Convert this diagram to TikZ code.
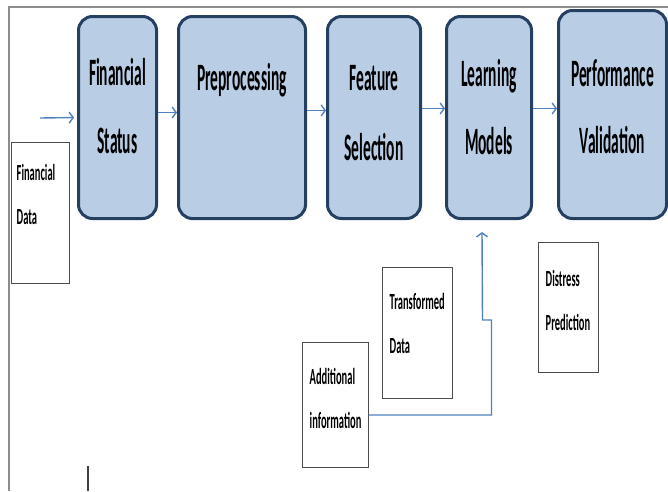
\documentclass[tikz,border=0pt]{standalone}
\usepackage{graphicx}
\usepackage{fontspec}
\setmainfont{Carlito}
\usetikzlibrary{positioning, arrows.meta}

\definecolor{stagefill}{HTML}{B9CDE5}
\definecolor{stageline}{HTML}{243F60}
\definecolor{flowblue}{HTML}{4F81BD}
\newcommand{\tallcell}[3][2.2]{\scalebox{1}[#1]{\begin{tabular}{@{}#2@{}}#3\end{tabular}}}

\begin{document}
\begin{tikzpicture}[x=1pt, y=-1pt,
    stage/.style={draw=stageline, line width=3pt, fill=stagefill, rounded corners=14pt, minimum height=202pt, inner sep=0pt},
    stagetext/.style={inner sep=0pt, font=\fontsize{15.5}{27}\selectfont\bfseries},
    databox/.style={draw=black!70, line width=1pt, fill=white, inner sep=0pt},
    datatext/.style={anchor=west, inner sep=0pt, font=\fontsize{10.5}{20}\selectfont\bfseries},
    flow/.style={draw=flowblue, line width=1.4pt, -{Straight Barb[length=4pt, width=11pt]}},
    frame/.style={draw=black!45, line width=1.2pt}]
    \useasboundingbox (0,0) rectangle (668,491);
    \draw[frame] (8,7) -- (668,7);
    \draw[frame] (9,7) -- (9,491);
    \draw[frame, draw=black!75] (88,466) -- (88,491);

    \node (fin) [stage, minimum width=78pt] at (117.5,117.5) {};
    \node (pre) [stage, minimum width=127pt, right=19pt of fin] {};
    \node (feat) [stage, minimum width=93pt, right=19pt of pre] {};
    \node (learn) [stage, minimum width=85pt, right=23pt of feat] {};
    \node (perf) [stage, minimum width=108pt, minimum height=208pt, right=24pt of learn, yshift=3pt] {};

    \node (fintxt) [stagetext] at ([yshift=11.5pt]fin.center) {\tallcell[2.5]{c}{Financial\\Status}};
    \node (pretxt) [stagetext] at ([yshift=41pt]pre.center) {\tallcell[2.5]{c}{Preprocessing}};
    \node (feattxt) [stagetext, font=\fontsize{15.5}{28}\selectfont\bfseries] at ([yshift=6pt]feat.center) {\tallcell[2.5]{c}{Feature\\Selection}};
    \node (learntxt) [stagetext] at ([yshift=10.5pt]learn.center) {\tallcell[2.5]{c}{Learning\\Models}};
    \node (perftxt) [stagetext] at ([yshift=8pt]perf.center) {\tallcell[2.5]{c}{Performance\\Validation}};

    \node (fd) [databox, minimum width=58pt, minimum height=141pt] at (40,212.5) {};
    \node (td) [databox, minimum width=70pt, minimum height=131pt] at (417,332.5) {};
    \node (ai) [databox, minimum width=66pt, minimum height=125pt] at (335,404.5) {};
    \node (dp) [databox, minimum width=60pt, minimum height=130pt] at (568,307) {};

    \node (fdtxt) [datatext] at ([xshift=6pt, yshift=19pt]fd.west) {\tallcell{l}{Financial\\Data}};
    \node (tdtxt) [datatext] at ([xshift=8pt, yshift=9.5pt]td.west) {\tallcell{l}{Transformed\\Data}};
    \node (aitxt) [datatext] at ([xshift=8pt, yshift=6.5pt]ai.west) {\tallcell{l}{Additional\\information}};
    \node (dptxt) [datatext] at ([xshift=8pt, yshift=7pt]dp.west) {\tallcell{l}{Distress\\Prediction}};

    \coordinate (src) at (40,118);
    \draw[flow, shorten >=3pt] (src) -- (fin.west);
    \draw[flow] ([yshift=5pt]fin.east) -- ([yshift=5pt]pre.west);
    \draw[flow] ([yshift=7pt]pre.east) -- ([yshift=7pt]feat.west);
    \draw[flow] ([yshift=9pt]feat.east) -- ([yshift=9pt]learn.west);
    \draw[flow] ([yshift=9pt]learn.east) -- ([yshift=6pt]perf.west);
    \draw[flow] ([yshift=-10.5pt]ai.east) -- ++(123,0) -- ++(0,-95) -- ++(-9,0) -- ([xshift=-7pt, yshift=-12pt]learn.south);
\end{tikzpicture}
\end{document}
